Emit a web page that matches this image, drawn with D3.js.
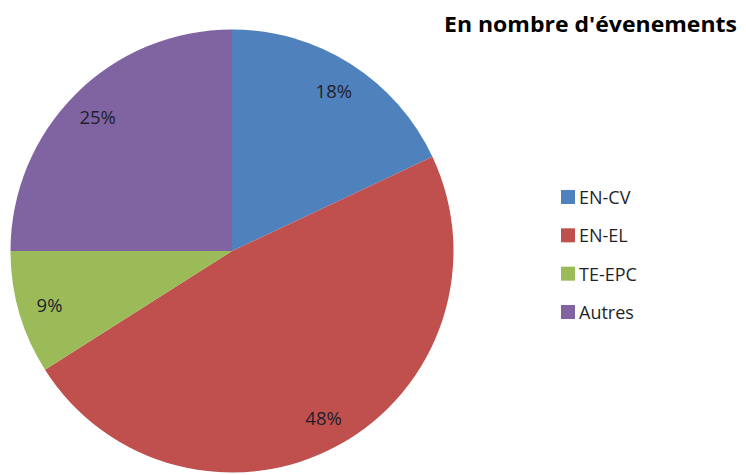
<!DOCTYPE html>
<html><head><meta charset="utf-8">
<script src="https://cdn.jsdelivr.net/npm/d3@7"></script>
<style>body{margin:0;background:#fff}svg{display:block}</style>
</head><body>
<svg id="c" width="746" height="475"></svg>
<script>
const categories = ["EN-CV", "EN-EL", "TE-EPC", "Autres"];
const values = [18, 48, 9, 25];
const colors = ["#4F81BD", "#C0504D", "#9BBB59", "#8064A2"];
const title = "En nombre d'évenements";

const svg = d3.select("#c");
const font = "'Open Sans', 'Noto Sans', sans-serif";
const cx = 232, cy = 251, r = 221.5, lr = 190;

const pie = d3.pie().sort(null).value(d => d)(values);
const arc = d3.arc().innerRadius(0).outerRadius(r);
const labArc = d3.arc().innerRadius(lr).outerRadius(lr);

const g = svg.append("g").attr("transform", `translate(${cx},${cy})`);
g.selectAll("path").data(pie).join("path")
  .attr("d", arc).attr("fill", (d, i) => colors[i]);

const total = d3.sum(values);
g.selectAll("text").data(pie).join("text")
  .attr("transform", d => `translate(${labArc.centroid(d)})`)
  .attr("text-anchor", "middle").attr("dominant-baseline", "central")
  .attr("font-family", font).attr("font-size", 18.5).attr("fill", "#1f1f2a")
  .text(d => Math.round(d.data / total * 100) + "%");

svg.append("text").attr("x", 444).attr("y", 31.5)
  .attr("font-family", font).attr("font-weight", "bold").attr("font-size", 21)
  .attr("textLength", 293).attr("lengthAdjust", "spacingAndGlyphs")
  .attr("fill", "#000").text(title);

const leg = svg.append("g");
const rowY = d3.scalePoint().domain(categories).range([197, 312]);
categories.forEach((c, i) => {
  const y = rowY(c);
  leg.append("rect").attr("x", 561).attr("y", y - 7).attr("width", 14).attr("height", 14)
    .attr("fill", colors[i]);
  leg.append("text").attr("x", 579).attr("y", y + 7)
    .attr("font-family", font).attr("font-size", 18).attr("fill", "#1f1f2a").text(c);
});
</script>
</body></html>
